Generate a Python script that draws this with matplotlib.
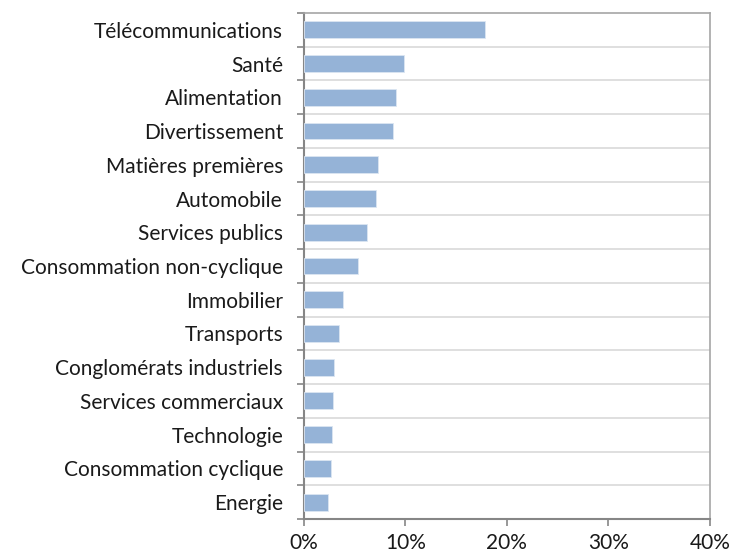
import numpy as np
import matplotlib
matplotlib.use("Agg")
import matplotlib.pyplot as plt

plt.rcParams['font.family'] = ['Lato', 'DejaVu Sans']

sectors = ['Télécommunications', 'Santé', 'Alimentation', 'Divertissement',
           'Matières premières', 'Automobile', 'Services publics',
           'Consommation non-cyclique', 'Immobilier', 'Transports',
           'Conglomérats industriels', 'Services commerciaux', 'Technologie',
           'Consommation cyclique', 'Energie']
weights = [17.8, 9.9, 9.1, 8.8, 7.3, 7.1, 6.2, 5.3, 3.9, 3.5, 3.0, 2.9, 2.8, 2.7, 2.35]
x_ticks = [0, 10, 20, 30, 40]

fig = plt.figure(figsize=(7.34, 5.53), dpi=100)
ax = fig.add_axes([0.414, 0.0615, 0.553, 0.915])

y = np.arange(len(sectors))[::-1]
ax.barh(y, weights, height=0.5, color='#95b3d7', edgecolor='#dce6f2', linewidth=0.6, zorder=3)

ax.set_xlim(0, 40)
ax.set_ylim(-0.5, len(sectors) - 0.5)
ax.set_xticks(x_ticks)
ax.set_xticklabels([f'{t}%' for t in x_ticks], fontsize=15, color='#1a1a1a')
ax.set_yticks(y)
ax.set_yticklabels(sectors, fontsize=15, color='#1a1a1a')
ax.tick_params(axis='y', length=0, pad=15)
ax.set_yticks(np.arange(-0.5, len(sectors), 1), minor=True)
ax.tick_params(axis='y', which='minor', length=5, color='#868686', width=1.2)
ax.tick_params(axis='x', length=5, color='#868686', width=1.2, pad=5)

for b in np.arange(0.5, len(sectors) - 0.5, 1):
    ax.axhline(b, color='#d9d9d9', linewidth=1.2, zorder=1)

for s in ['left', 'bottom']:
    ax.spines[s].set_color('#868686')
    ax.spines[s].set_linewidth(1.5)
for s in ['top', 'right']:
    ax.spines[s].set_color('#a6a6a6')
    ax.spines[s].set_linewidth(1.2)

fig.savefig('out.png', dpi=100)
